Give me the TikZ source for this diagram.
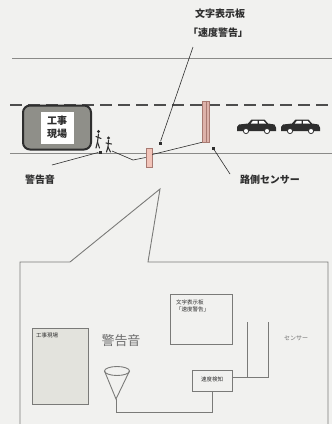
\documentclass[tikz,border=0pt]{standalone}
\usepackage{fontspec}
\newfontfamily\jp{Noto Sans CJK JP}
\usetikzlibrary{calc}
\definecolor{bg}{HTML}{F1F1EF}
\definecolor{ink}{HTML}{2E2E2E}
\definecolor{rule}{HTML}{8A8A88}
\definecolor{thin}{HTML}{7A7A78}
\definecolor{pinkfill}{HTML}{F2C4B9}
\definecolor{pinkedge}{HTML}{A87A72}
\definecolor{polefill}{HTML}{DDB2AA}
\definecolor{sitegray}{HTML}{8F8F89}
\definecolor{panel}{HTML}{E3E3DD}
\begin{document}
\begin{tikzpicture}[x=1pt,y=-1pt,
  lbl/.style={font=\jp\bfseries\fontsize{10}{12}\selectfont, text=ink, inner sep=0pt},
  small/.style={font=\jp\fontsize{5.5}{7}\selectfont, text=ink, inner sep=0pt},
  roadline/.style={draw=rule, line width=0.9pt},
  laneline/.style={draw=ink!85, line width=2.4pt, dash pattern=on 12pt off 6pt},
  leader/.style={draw=ink, line width=0.6pt},
  tipdot/.style={fill=ink, inner sep=0pt, minimum size=3pt, rectangle},
  pinkbar/.style={draw=pinkedge, fill=pinkfill, line width=0.6pt, inner sep=0pt},
  wire/.style={draw=thin, line width=0.9pt},
  frame/.style={draw=thin, line width=0.9pt, inner sep=0pt},
  car/.pic={
    \fill[ink] (0,8) -- (2,5.5) -- (11,4.5) -- (14.5,0.5) -- (27.5,0.5) -- (31,4.5)
      -- (37.5,5.5) -- (39,8.5) -- (39,12) -- (0,12) -- cycle;
    \fill[white] (16,1.8) -- (20.5,1.8) -- (20.5,4.5) -- (13.8,4.5) -- cycle;
    \fill[white] (22,1.8) -- (26.5,1.8) -- (29,4.5) -- (22,4.5) -- cycle;
    \filldraw[fill=white, draw=ink, line width=0.8pt] (9,12) circle (2.6);
    \filldraw[fill=white, draw=ink, line width=0.8pt] (30,12) circle (2.6);
  }]
\useasboundingbox (0,0) rectangle (332,424);
\fill[bg] (0,0) rectangle (332,424);

% title of the roadside display
\node[lbl] (title1) at (220,14) {文字表示板};
\node[lbl] (title2) at (218,33) {「速度警告」};
\coordinate (titlefoot) at (193,47);

% road edges and lane marking
\draw[roadline] (12,58) -- (332,58);
\draw[laneline] (10,105) -- (332,105);
\draw[roadline] (10,153) -- (332,153);

% work site block
\node[draw=ink, fill=sitegray, line width=2pt, rounded corners=7pt,
      minimum width=68pt, minimum height=44pt] (site) at (57,127.5) {};
\node[fill=white, minimum width=33pt, minimum height=32pt, inner sep=0pt,
      align=center, font=\jp\bfseries\fontsize{10}{13}\selectfont, text=ink] (sitelabel) at (57,127.5) {工事\\現場};

% workers beside the site
\begin{scope}[ink, line width=1.1pt, line cap=round]
  \fill (98.5,131.5) circle (1.7);
  \draw (98.5,134) -- (97.5,142) -- (96,148);
  \draw (97.5,142) -- (99.5,148);
  \draw (96,136.5) -- (101,138.5);
  \fill (108.5,138) circle (1.7);
  \draw (108.5,140.5) -- (108,147) -- (106.5,152);
  \draw (108,147) -- (110.5,152);
  \draw (106,143) -- (111.5,144);
\end{scope}

% display board and roadside sensor
\node[pinkbar, minimum width=6pt, minimum height=19pt] (board) at (149,157.5) {};
\node[pinkbar, fill=polefill, minimum width=7.5pt, minimum height=41pt] (sensor) at (206,121.5) {};
\draw[pinkedge, line width=0.8pt] (sensor.north) -- (sensor.south);

% cars
\pic at (237,119) {car};
\pic at (281,119) {car};

% wiring along the road
\coordinate (wk) at (112,151);
\coordinate (dip) at (133,160);
\draw[leader] (wk) -- (dip) -- (board.west);
\draw[leader] ($(board.east)+(0,-3)$) -- (sensor.south west);

% callout leaders
\node[tipdot] (boarddot) at (160,143) {};
\draw[leader] (titlefoot) -- (boarddot);
\node[lbl] (hornlbl) at (40,180) {警告音};
\node[tipdot] (horndot) at (100,152) {};
\draw[leader] (52,165) -- (horndot);
\node[lbl] (senslbl) at (270,180) {路側センサー};
\node[tipdot] (sensdot) at (213,148) {};
\draw[leader] (sensdot) -- (230,174);

% enlarged view frame
\coordinate (apex) at (160,189);
\draw[wire] (20,424) -- (20,262) -- (70,262) -- (apex) -- (148,262) -- (328,262) -- (328,424);

% enlarged view contents
\node[frame, fill=panel, minimum width=56pt, minimum height=76pt] (panelbox) at (60,366) {};
\node[small, anchor=north west] (paneltxt) at (36,333) {工事現場};
\node[font=\jp\fontsize{13}{15}\selectfont, text=ink!70, inner sep=0pt] (hornbig) at (121,341) {警告音};

\draw[wire, fill=bg] (104.5,371) -- (116,399) -- (129.5,371);
\draw[wire] (117,371) ellipse (12.5 and 4.5);
\coordinate (hornfoot) at (116,399);

\node[frame, minimum width=40pt, minimum height=21pt] (detector) at (212,380.5) {};
\node[small] (dettxt) at (212,379) {速度検知};
\draw[wire] (hornfoot) -- (116,412) -- (212,412) -- (detector.south);

\node[frame, minimum width=62pt, minimum height=50pt] (dispbox) at (201,319) {};
\node[small, anchor=north west, align=left] (disptxt) at (176,300) {文字表示板\\「速度警告」};

\coordinate (uleft) at (247,322);
\coordinate (uright) at (268,322);
\draw[wire] (uleft) -- (247,377);
\draw[wire] (detector.east |- 0,377) -- (268,377) -- (uright);
\node[font=\jp\fontsize{6}{7}\selectfont, text=ink!70, inner sep=0pt] (senssmall) at (296,338) {センサー};
\end{tikzpicture}
\end{document}
